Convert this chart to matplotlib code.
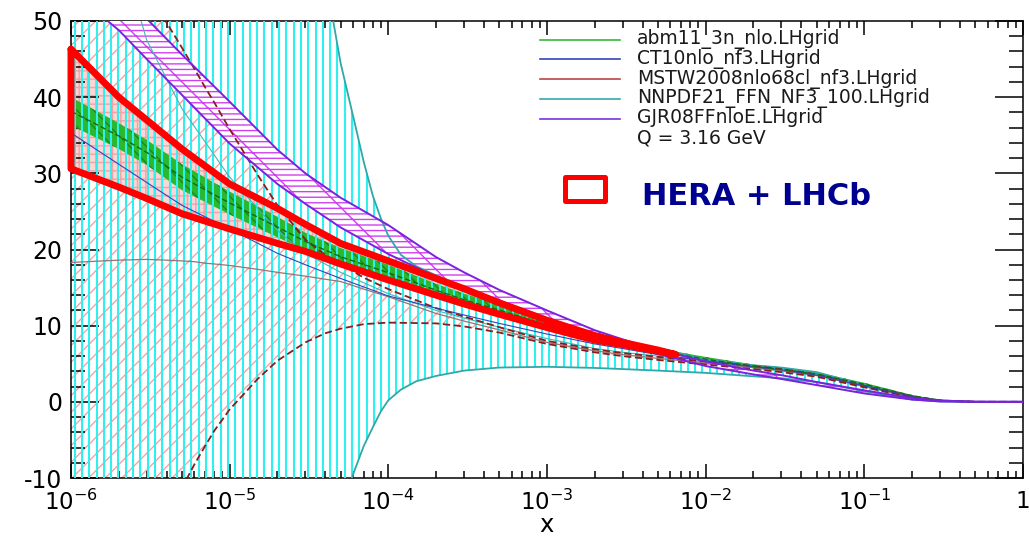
import numpy as np
import matplotlib
matplotlib.use('Agg')
import matplotlib.pyplot as plt
from matplotlib.collections import LineCollection
from matplotlib.lines import Line2D
from matplotlib.patches import Rectangle
from matplotlib.ticker import FixedLocator, FixedFormatter, MultipleLocator, LogLocator, NullFormatter

plt.rcParams['font.family'] = ['DejaVu Sans']
plt.rcParams['mathtext.fontset'] = 'dejavusans'
plt.rcParams['hatch.linewidth'] = 1.0

# ---------------- data ----------------
X = [1e-6, 2e-6, 3e-6, 5e-6, 1e-5, 2e-5, 3e-5, 5e-5, 1e-4, 2e-4, 3e-4, 5e-4,
     1e-3, 2e-3, 3e-3, 5e-3, 1e-2, 2e-2, 3e-2, 5e-2, 0.1, 0.2, 0.3, 0.5, 0.7, 1.0]

NNPDF_X = [1e-6, 2e-6, 3e-6, 5e-6, 1e-5, 2e-5, 3e-5, 4e-5, 5e-5, 6e-5, 7e-5, 8e-5, 9e-5, 1e-4,
           1.2e-4, 1.5e-4, 2e-4, 3e-4, 5e-4, 1e-3, 2e-3, 3e-3, 5e-3, 1e-2, 2e-2, 3e-2, 5e-2,
           0.1, 0.2, 0.3, 0.5, 0.7, 1.0]
NNPDF_UP = [500, 400, 330, 250, 160, 100, 72, 56, 44.5, 37.5, 31.5, 27.0, 24.0, 21.8,
            19.3, 17.8, 16.6, 15.0, 13.2, 10.9, 8.9, 8.0, 7.0, 5.6, 4.8, 4.5, 3.9,
            2.2, 0.6, 0.15, 0.0, 0.0, 0.0]
NNPDF_LO = [-500, -400, -330, -250, -120, -60, -40, -24, -16, -9.5, -5.8, -3.3, -1.2, 0.2,
            1.6, 2.7, 3.4, 4.1, 4.5, 4.6, 4.45, 4.3, 4.1, 3.8, 3.35, 3.1, 2.6,
            1.4, 0.3, 0.05, 0.0, 0.0, 0.0]
NNPDF_CEN = [80, 60, 47.5, 38.5, 29.5, 22.5, 19.5, 17.0, 14.2, 12.0, 11.0, 9.8, 8.3, 7.0, 6.5, 6.0,
             5.2, 4.6, 4.2, 3.5, 2.0, 0.7, 0.2, 0.0, 0.0, 0.0]

MSTW_X = [1e-6, 2e-6, 3e-6, 4e-6, 5e-6, 6e-6, 7e-6, 8e-6, 1e-5, 1.5e-5, 2e-5, 3e-5, 4e-5, 5e-5,
          7e-5, 1e-4, 2e-4, 3e-4, 5e-4, 1e-3, 2e-3, 3e-3, 5e-3, 1e-2, 2e-2, 3e-2, 5e-2,
          0.1, 0.2, 0.3, 0.5, 0.7, 1.0]
MSTW_UP = [72, 60, 53.8, 49.8, 46.5, 43.7, 41.3, 39.3, 35.8, 29.8, 25.8, 21.3, 19.3, 18.1,
           16.3, 14.8, 12.3, 11.2, 9.8, 8.0, 6.9, 6.4, 5.9, 5.3, 4.7, 4.3, 3.6,
           2.1, 0.7, 0.2, 0.0, 0.0, 0.0]
MSTW_LO = [-45, -30, -21, -15.5, -11.3, -8.2, -5.8, -3.8, -1.0, 3.0, 5.4, 7.8, 9.0, 9.6,
           10.2, 10.4, 10.3, 9.9, 9.1, 7.6, 6.5, 6.0, 5.5, 4.9, 4.3, 3.9, 3.3,
           1.9, 0.6, 0.15, 0.0, 0.0, 0.0]
MSTW_CEN = [18.3, 18.6, 18.7, 18.6, 18.5, 18.4, 18.2, 18.1, 17.9, 17.4, 17.0, 16.5, 16.1, 15.8,
            14.8, 13.8, 11.6, 10.6, 9.45, 7.8, 6.7, 6.2, 5.7, 5.1, 4.5, 4.1, 3.45,
            2.0, 0.65, 0.17, 0.0, 0.0, 0.0]

GJR_UP = [60.0, 53.9, 50.3, 45.6, 39.4, 33.1, 30.0, 26.8, 23.2, 19.0, 17.0, 14.7, 12.0, 9.4, 8.2, 6.8,
          5.3, 4.1, 3.5, 2.6, 1.5, 0.5, 0.15, 0.02, 0.0, 0.0]
GJR_LO = [54.0, 48.8, 45.0, 40.3, 33.9, 28.6, 26.0, 22.9, 19.4, 16.4, 15.0, 13.3, 11.0, 8.9, 7.8, 6.3,
          4.7, 3.6, 3.0, 2.2, 1.1, 0.3, 0.05, 0.0, 0.0, 0.0]

ABM_UP = [40.0, 36.6, 34.4, 31.2, 27.6, 24.3, 22.2, 20.2, 18.0, 15.5, 14.2, 12.8, 10.6, 8.6, 7.9, 7.0,
          5.9, 4.9, 4.5, 3.9, 2.5, 0.9, 0.25, 0.0, 0.0, 0.0]
ABM_LO = [36.3, 33.2, 31.1, 27.8, 24.6, 21.6, 19.9, 17.9, 15.9, 13.8, 12.6, 11.3, 9.6, 7.9, 7.3, 6.4,
          5.3, 4.4, 4.0, 3.4, 2.1, 0.7, 0.15, 0.0, 0.0, 0.0]

CT10 = [35.3, 31.2, 28.8, 25.8, 22.7, 19.5, 18.0, 16.2, 13.9, 12.3, 11.4, 10.3, 8.9, 7.6, 7.0, 6.2,
        5.4, 4.6, 4.2, 3.5, 2.1, 0.7, 0.2, 0.0, 0.0, 0.0]

HERA_X = [1e-6, 2e-6, 3e-6, 5e-6, 1e-5, 2e-5, 3e-5, 5e-5, 1e-4, 2e-4, 3e-4, 5e-4,
          1e-3, 2e-3, 3e-3, 5e-3, 6.5e-3]
HERA_UP = [46.3, 40.0, 37.0, 33.2, 28.6, 25.4, 23.3, 20.8, 18.5, 16.2, 14.85, 13.0, 10.7, 8.7, 7.8, 6.8, 6.2]
HERA_LO = [30.6, 28.2, 26.7, 24.7, 22.7, 20.8, 19.75, 18.1, 16.0, 14.0, 12.85, 11.5, 9.75, 8.1, 7.5, 6.65, 6.2]

XTICKS = [1e-6, 1e-5, 1e-4, 1e-3, 1e-2, 1e-1, 1.0]
XTICK_LABELS = [r'$10^{-6}$', r'$10^{-5}$', r'$10^{-4}$', r'$10^{-3}$', r'$10^{-2}$', r'$10^{-1}$', '1']
YTICKS = [-10, 0, 10, 20, 30, 40, 50]
YTICK_LABELS = ['-10', '0', '10', '20', '30', '40', '50']
X_LABEL = r'$\mathrm{x}$'

LEG_LABELS = ['abm11_3n_nlo.LHgrid', 'CT10nlo_nf3.LHgrid', 'MSTW2008nlo68cl_nf3.LHgrid',
              'NNPDF21_FFN_NF3_100.LHgrid', 'GJR08FFnloE.LHgrid']
LEG_COLORS = ['#33bb33', '#3344bb', '#bb4444', '#33aaaa', '#7733dd']
Q_LABEL = 'Q = 3.16 GeV'
HERA_LABEL = 'HERA + LHCb'

# ---------------- figure ----------------
W, H = 1029, 537
fig = plt.figure(figsize=(W / 100, H / 100), dpi=100)
ax = fig.add_axes([71 / W, 1 - 478 / H, (1023 - 71) / W, (478 - 21) / H])
ax.set_xscale('log')
ax.set_xlim(1e-6, 1)
ax.set_ylim(-10, 50)

# MSTW band: pink diagonal hatching
ax.fill_between(MSTW_X, MSTW_LO, MSTW_UP, facecolor='none', edgecolor='#f5a3a3', hatch='//',
                linewidth=0, zorder=1)
# HERA+LHCb band: light pink with grid
ax.fill_between(HERA_X, HERA_LO, HERA_UP, facecolor='#fbd6d6', edgecolor='#f2a2a2', hatch='++',
                linewidth=0, zorder=1.5)
# abm band: green
ax.fill_between(X, ABM_LO, ABM_UP, facecolor='#2cb82c', edgecolor='#1a8a1a', hatch='\\\\',
                linewidth=0, zorder=2)

# NNPDF band: cyan vertical hatching
nn = ax.fill_between(NNPDF_X, NNPDF_LO, NNPDF_UP, facecolor='none', edgecolor='none',
                     linewidth=0, zorder=2.5)
step = 7.3 / 952
xs = np.arange(step / 2, 1, step)
segs = [[(v, 0), (v, 1)] for v in xs]
lc = LineCollection(segs, colors='#2ff0f0', linewidths=1.5, transform=ax.transAxes, zorder=2.6)
lc.set_clip_path(nn.get_paths()[0], ax.transData)
ax.add_collection(lc, autolim=False)

# GJR band: white with purple/magenta hatching
ax.fill_between(X, GJR_LO, GJR_UP, facecolor='white', edgecolor='#d040f0', hatch='---\\',
                linewidth=0, zorder=3)

# Lines
ax.plot(NNPDF_X, NNPDF_UP, color='#30a8a8', lw=1.3, zorder=4)
ax.plot(NNPDF_X, NNPDF_LO, color='#30a8a8', lw=1.3, zorder=4)
ax.plot(X, NNPDF_CEN, color='#40b8b8', lw=0.8, zorder=4)
ax.plot(MSTW_X, MSTW_CEN, color='#9a7272', lw=0.9, zorder=4)
ax.plot(MSTW_X, MSTW_UP, color='#8b1c1c', lw=1.3, dashes=(4, 2), zorder=4)
ax.plot(MSTW_X, MSTW_LO, color='#8b1c1c', lw=1.3, dashes=(4, 2), zorder=4)
ax.plot(X, CT10, color='#3344bb', lw=0.8, zorder=4)
ax.plot(X, [(a + b) / 2 for a, b in zip(ABM_UP, ABM_LO)], color='#156a15', lw=1.0,
        dashes=(4, 2), zorder=4)
ax.plot(X, GJR_UP, color='#7a22dd', lw=1.4, zorder=4.5)
ax.plot(X, GJR_LO, color='#7a22dd', lw=1.4, zorder=4.5)

# HERA + LHCb outline
poly_x = HERA_X + HERA_X[::-1] + [HERA_X[0]]
poly_y = HERA_UP + HERA_LO[::-1] + [HERA_UP[0]]
ax.plot(poly_x, poly_y, color='#ff0000', lw=5, solid_joinstyle='round', solid_capstyle='round',
        zorder=6, clip_on=False)

# Axes styling
for s in ax.spines.values():
    s.set_linewidth(1.1)
ax.xaxis.set_major_locator(FixedLocator(XTICKS))
ax.xaxis.set_major_formatter(FixedFormatter(XTICK_LABELS))
ax.xaxis.set_minor_locator(LogLocator(base=10, subs=list(range(2, 10)), numticks=30))
ax.xaxis.set_minor_formatter(NullFormatter())
ax.yaxis.set_major_locator(FixedLocator(YTICKS))
ax.yaxis.set_major_formatter(FixedFormatter(YTICK_LABELS))
ax.yaxis.set_minor_locator(MultipleLocator(2))
ax.tick_params(which='both', direction='in', top=True, right=True, width=1.1, colors='black')
ax.tick_params(axis='x', which='major', length=10, labelsize=16.5, pad=8.5)
ax.tick_params(axis='x', which='minor', length=5)
ax.tick_params(axis='y', which='major', length=20, labelsize=17, pad=6)
ax.tick_params(axis='y', which='minor', length=10)
ax.set_xlabel(X_LABEL, fontsize=17.5)
ax.xaxis.label.set_va('baseline')
ax.xaxis.set_label_coords(0.5, (478 - 532) / 457)

# Legend (ROOT style, no frame)
for i, (lab, col) in enumerate(zip(LEG_LABELS, LEG_COLORS)):
    yb = 44 + 19.8 * i
    yl = yb - 4.5
    fig.add_artist(Line2D([540 / W, 620 / W], [1 - yl / H, 1 - yl / H], color=col, lw=1.2))
    fig.text(637 / W, 1 - yb / H, lab, fontsize=13.5, va='baseline', ha='left', color='#1a1a1a')
fig.text(637 / W, 1 - 144 / H, Q_LABEL, fontsize=13.5, va='baseline', ha='left', color='#1a1a1a')

fig.add_artist(Rectangle((564.5 / W, 1 - 200.5 / H), 40 / W, 24 / H, transform=fig.transFigure,
                         facecolor='none', edgecolor='#ff0000', lw=3.6, joinstyle='round'))
fig.text(642 / W, 1 - 205 / H, HERA_LABEL, fontsize=22, fontweight='bold', va='baseline',
         ha='left', color='#000090')

fig.savefig('out.png', dpi=100)
